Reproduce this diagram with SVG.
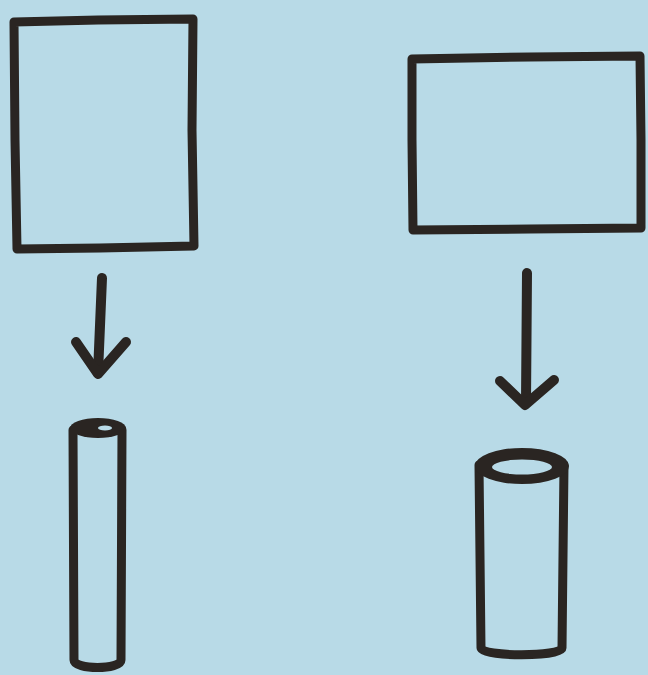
<svg xmlns="http://www.w3.org/2000/svg" width="648" height="675" viewBox="0 0 648 675">
<style>
.ink{fill:none;stroke:#2a2522;stroke-width:9;stroke-linecap:round;stroke-linejoin:round}
.conn{fill:none;stroke:#2a2522;stroke-width:10;stroke-linecap:round;stroke-linejoin:round}
</style>
<rect width="648" height="675" fill="#b8dae7"/>
<g id="rect-tall"><path class="ink" d="M14 22 L98 20 L193 19 L192 130 L194 246 L100 248 L17 249 L15 140 Z"/></g>
<g id="rect-wide"><path class="ink" d="M412 59 L530 57 L640 56 L641 140 L641 228 L530 229 L413 230 L412 140 Z"/></g>
<g id="tube-thin">
<path class="ink" d="M73 430 L74 660 C74 670 121 670 121 660 L122 430"/>
<ellipse cx="98" cy="428" rx="28" ry="10" fill="#2a2522"/>
<ellipse cx="105" cy="428" rx="7" ry="2.5" fill="#b8dae7"/>
</g>
<g id="tube-wide">
<path class="ink" d="M479 465 L481 648 C481 657 562 657 562 648 L564 465"/>
<ellipse cx="522" cy="466" rx="47" ry="18" fill="#2a2522"/>
<ellipse cx="522" cy="467" rx="30" ry="7.5" fill="#b8dae7"/>
</g>
<g id="connectors">
<path class="conn" d="M102 278 L98 373"/>
<path class="conn" d="M76 342 L98 374 L126 342"/>
<path class="conn" d="M527 273 L526 402"/>
<path class="conn" d="M500 381 L525 405 L554 380"/>
</g>
</svg>
